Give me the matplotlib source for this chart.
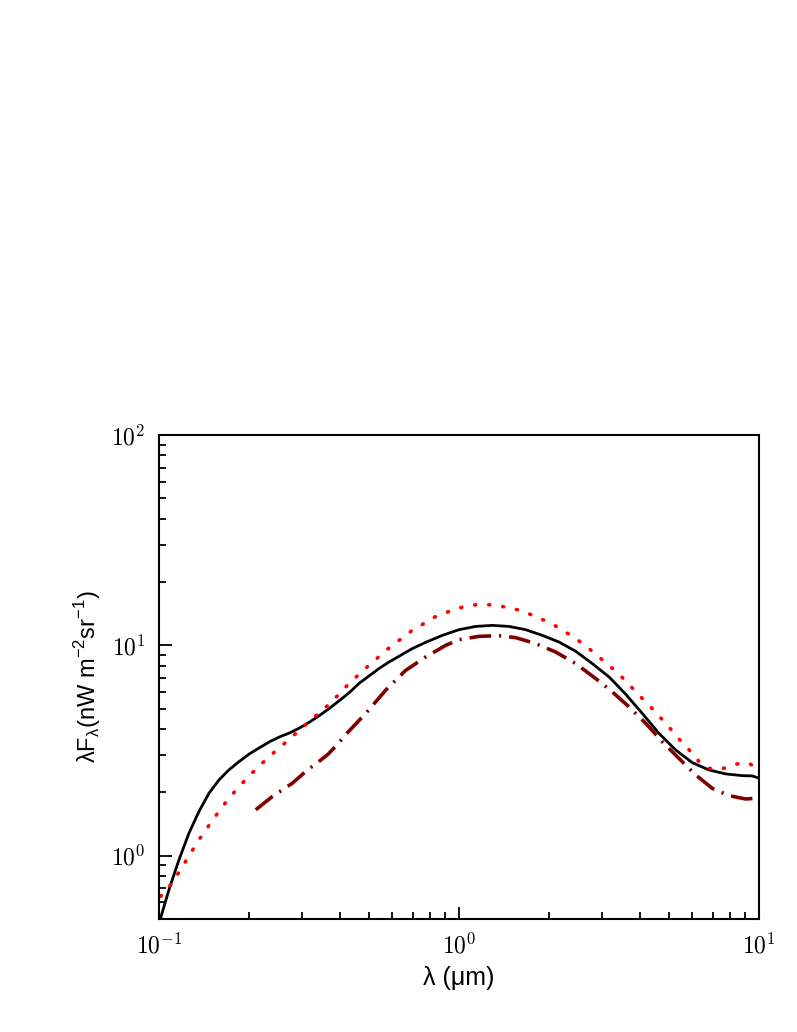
import matplotlib.pyplot as plt
import numpy as np

# black solid curve
x_solid = [0.1, 0.1013, 0.108, 0.1166, 0.1259, 0.1359, 0.1468, 0.1585, 0.171, 0.1848,
           0.2010, 0.2171, 0.2344, 0.2531, 0.2733, 0.2951, 0.3187, 0.3441, 0.3715, 0.4012,
           0.4332, 0.464, 0.5012, 0.541, 0.5843, 0.631, 0.6989, 0.774, 0.880, 1.0, 1.137,
           1.29, 1.468, 1.668, 1.896, 2.154, 2.449, 2.782, 3.162, 3.594, 4.083, 4.642,
           5.277, 5.994, 6.813, 7.745, 8.80, 9.50, 10.0]
y_solid = [0.50, 0.507, 0.690, 0.957, 1.281, 1.622, 1.982, 2.292, 2.556, 2.80,
           3.06, 3.27, 3.49, 3.677, 3.840, 4.057, 4.330, 4.658, 5.04, 5.49,
           6.0, 6.585, 7.15, 7.755, 8.33, 8.87, 9.65, 10.33, 11.15, 11.87, 12.30,
           12.44, 12.30, 11.87, 11.15, 10.37, 9.37, 8.19, 7.08, 5.86, 4.746, 3.815,
           3.18, 2.768, 2.556, 2.447, 2.402, 2.394, 2.334]

# red dotted curve
x_dot = [0.1013, 0.1107, 0.1227, 0.1359, 0.1525, 0.171, 0.197, 0.2296, 0.2698, 0.3162,
         0.3736, 0.430, 0.5012, 0.5843, 0.6934, 0.8363, 0.9333, 1.026, 1.137, 1.276,
         1.394, 1.564, 1.711, 1.896, 2.101, 2.268, 2.48, 2.698, 2.929, 3.162, 3.441,
         3.707, 4.003, 4.299, 4.607, 4.947, 5.248, 5.594, 5.967, 6.310, 6.813, 7.413,
         8.047, 8.690, 9.333, 9.870]
y_dot = [0.641, 0.742, 0.940, 1.191, 1.509, 1.877, 2.350, 2.904, 3.546, 4.330,
         5.328, 6.585, 8.04, 9.71, 11.69, 13.72, 14.54, 15.19, 15.59, 15.59,
         15.30, 14.76, 14.13, 13.28, 12.35, 11.56, 10.64, 9.71, 8.80, 8.04, 7.21,
         6.46, 5.75, 5.20, 4.66, 4.18, 3.77, 3.40, 3.09, 2.80, 2.60, 2.58,
         2.65, 2.77, 2.73, 2.60]

# dark red dash-dot curve
x_dd = [0.2101, 0.2385, 0.2782, 0.3146, 0.3355, 0.3666, 0.3961, 0.4276, 0.4887, 0.5697,
        0.6645, 0.774, 0.903, 1.0, 1.166, 1.359, 1.545, 1.802, 2.101, 2.449, 2.856,
        3.243, 3.687, 4.193, 4.760, 5.412, 6.152, 6.988, 7.943, 9.03, 10.0]
y_dd = [1.652, 1.91, 2.21, 2.576, 2.75, 3.04, 3.42, 3.88, 4.746, 6.12,
        7.61, 8.80, 10.0, 10.64, 11.03, 11.12, 10.88, 10.19, 9.29, 8.19, 6.95,
        6.01, 5.10, 4.26, 3.48, 2.90, 2.42, 2.09, 1.93, 1.86, 1.88]

xtick_vals = [0.1, 1, 10]
xtick_labels = [r'$10^{-1}$', r'$10^{0}$', r'$10^{1}$']
ytick_vals = [1, 10, 100]
ytick_labels = [r'$10^{0}$', r'$10^{1}$', r'$10^{2}$']

fig = plt.figure(figsize=(7.97, 10.32), dpi=100)
ax = fig.add_axes([0.1995, 0.1095, 0.7528, 0.469])

ax.plot(x_solid, y_solid, color='black', lw=2.0, solid_joinstyle='round')
ax.plot(x_dot, y_dot, color='red', lw=2.6, linestyle=(0, (0.3, 3.6)), dash_capstyle='round')
ax.plot(x_dd, y_dd, color='#800000', lw=2.6, linestyle=(0, (6.0, 2.2, 0.6, 2.2)))

ax.set_xscale('log')
ax.set_yscale('log')
ax.set_xlim(0.1, 10)
ax.set_ylim(0.5, 100)

ax.set_xticks(xtick_vals)
ax.set_xticklabels(xtick_labels)
ax.set_yticks(ytick_vals)
ax.set_yticklabels(ytick_labels)
for lbl in ax.get_xticklabels() + ax.get_yticklabels():
    lbl.set_math_fontfamily('cm')
    lbl.set_fontsize(17)

ax.tick_params(which='both', direction='in', top=False, right=False, width=1.3)
ax.tick_params(which='major', length=9, pad=10)
ax.tick_params(which='minor', length=5)
for s in ax.spines.values():
    s.set_linewidth(1.5)

ax.set_xlabel(r'λ (μm)', family='Liberation Sans', fontsize=18, labelpad=6)
ax.set_ylabel(r'λF$_\mathregular{λ}$(nW m$^\mathregular{-2}$sr$^\mathregular{-1}$)',
              family='Liberation Sans', fontsize=17, labelpad=6)

fig.savefig('out.png', dpi=100)
